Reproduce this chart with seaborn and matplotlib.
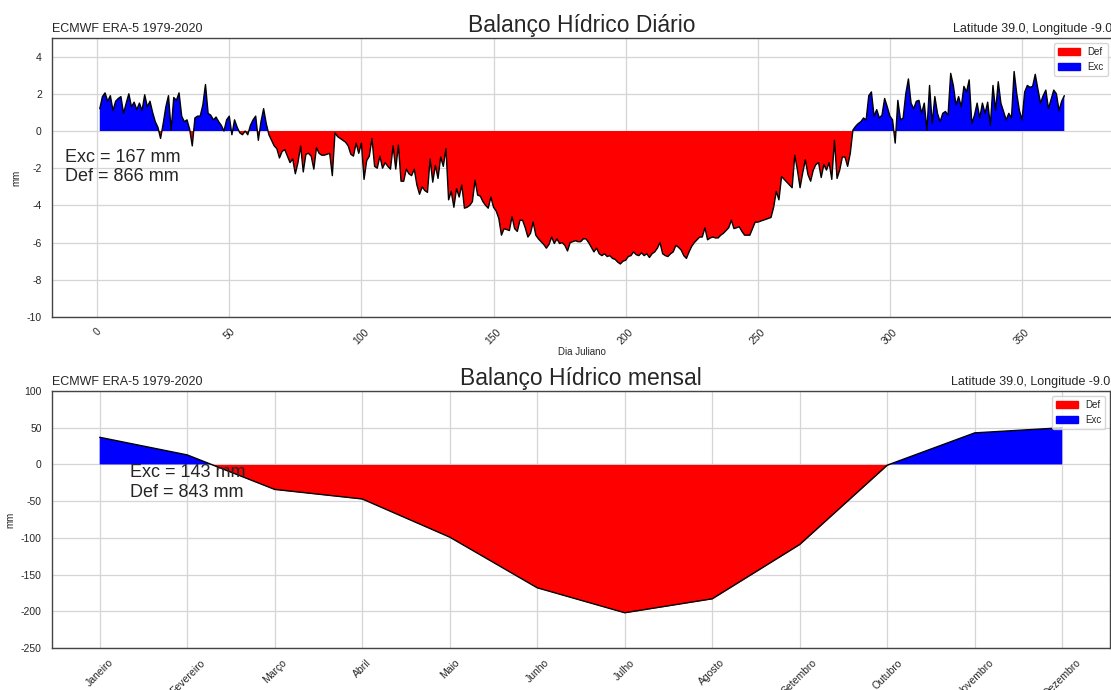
import numpy as np
import matplotlib
matplotlib.use("Agg")
import matplotlib.pyplot as plt
import seaborn as sns
from matplotlib.patches import Patch

# Daily water balance (mm), Julian days 1..366
dias = np.arange(1, 367)
balanco_diario = [
    1.2, 1.85, 2.05, 1.6, 1.9, 1.1, 1.6, 1.75, 1.85, 0.95,
    1.5, 2.0, 1.3, 1.55, 1.15, 1.5, 1.1, 1.95, 1.3, 1.6,
    1.0, 0.5, 0.2, -0.4, 0.4, 1.3, 1.9, 0.05, 1.8, 1.65,
    2.05, 0.8, 0.5, 0.6, 0.1, -0.8, 0.7, 0.8, 0.8, 1.4,
    2.5, 0.95, 0.85, 0.6, 0.75, 0.5, 0.3, 0.0, 0.6, 0.8,
    -0.2, 0.6, 0.2, -0.1, -0.2, 0.0, -0.2, 0.3, 0.6, 0.8,
    -0.5, 0.5, 1.2, 0.4, -0.2, -0.5, -0.8, -0.95, -1.45, -1.1,
    -1.0, -1.35, -1.7, -1.5, -2.3, -1.7, -0.8, -2.2, -1.25, -1.2,
    -1.35, -2.05, -0.9, -1.2, -1.3, -1.3, -1.25, -1.2, -2.4, -0.1,
    -0.3, -0.4, -0.5, -0.6, -0.8, -1.25, -1.35, -0.65, -1.2, -0.65,
    -2.6, -1.6, -1.35, -0.4, -1.9, -2.0, -1.35, -2.0, -1.7, -1.9,
    -2.05, -0.8, -2.05, -0.75, -2.7, -2.7, -2.05, -2.3, -2.4, -2.05,
    -2.9, -3.4, -3.0, -3.2, -3.3, -1.5, -2.75, -1.85, -2.55, -1.4,
    -1.9, -0.95, -3.7, -3.25, -4.1, -3.1, -3.55, -2.9, -4.15, -4.1,
    -4.0, -3.8, -2.65, -3.45, -3.5, -3.8, -4.0, -4.15, -3.55, -4.1,
    -4.3, -4.7, -5.6, -5.25, -5.3, -5.35, -4.6, -5.25, -5.4, -4.8,
    -4.8, -5.2, -5.7, -5.5, -4.9, -5.6, -5.8, -5.95, -6.1, -6.3,
    -6.1, -5.7, -6.05, -5.8, -6.05, -6.0, -6.15, -6.45, -6.0, -5.95,
    -5.9, -5.95, -5.95, -5.8, -5.8, -6.0, -6.25, -6.5, -6.3, -6.6,
    -6.7, -6.6, -6.75, -6.7, -6.85, -6.9, -7.05, -7.15, -7.0, -6.95,
    -6.75, -6.7, -6.5, -6.65, -6.7, -6.55, -6.7, -6.6, -6.8, -6.6,
    -6.5, -6.3, -6.0, -6.6, -6.7, -6.75, -6.6, -6.5, -6.15, -6.25,
    -6.4, -6.7, -6.85, -6.5, -6.2, -6.0, -5.85, -5.7, -5.7, -5.2,
    -5.85, -5.75, -5.7, -5.75, -5.75, -5.6, -5.5, -5.35, -5.2, -4.8,
    -5.25, -5.2, -5.15, -5.4, -5.6, -5.6, -5.6, -5.25, -4.9, -4.9,
    -4.85, -4.8, -4.75, -4.7, -4.65, -4.1, -3.25, -3.7, -2.45, -2.6,
    -2.75, -2.9, -3.05, -1.3, -2.1, -3.05, -2.25, -1.55, -2.35, -2.7,
    -2.1, -1.8, -1.7, -2.5, -1.8, -2.1, -1.7, -2.6, -0.5, -2.55,
    -2.1, -1.4, -1.4, -1.9, -1.2, 0.05, 0.25, 0.4, 0.5, 0.7,
    0.6, 1.9, 2.1, 0.8, 1.15, 0.7, 0.85, 1.75, 1.3, 0.8,
    0.6, -0.65, 1.65, 0.6, 0.7, 2.0, 2.8, 1.5, 1.2, 1.6,
    1.65, 0.95, 1.5, 0.05, 2.45, 0.4, 1.85, 0.95, 0.5, 0.95,
    1.05, 0.85, 3.1, 2.45, 1.4, 1.85, 1.3, 2.4, 2.1, 2.75,
    0.4, 0.85, 1.5, 0.7, 1.5, 0.95, 1.55, 0.3, 2.45, 1.1,
    2.65, 1.5, 1.05, 0.6, 0.95, 0.7, 3.2, 2.0, 1.1, 0.6,
    2.1, 2.45, 2.35, 2.4, 3.05, 2.25, 1.5, 1.9, 2.2, 1.2,
    1.7, 2.2, 2.0, 1.1, 1.6, 1.9,
]

# Monthly water balance (mm)
meses = ["Janeiro", "Fevereiro", "Março", "Abril", "Maio", "Junho",
         "Julho", "Agosto", "Setembro", "Outubro", "Novembro", "Dezembro"]
balanco_mensal = [37, 13, -34, -47, -99, -168, -202, -183, -109, -1, 43, 50]

fonte_dados = "ECMWF ERA-5 1979-2020"
local = "Latitude 39.0, Longitude -9.0"
resumo_diario = "Exc = 167 mm\nDef = 866 mm"
resumo_mensal = "Exc = 143 mm\nDef = 843 mm"

sns.set_style("white")
plt.rcParams["font.family"] = ["Liberation Sans", "DejaVu Sans"]
plt.rcParams["axes.unicode_minus"] = False

fig = plt.figure(figsize=(11.11, 6.9), dpi=100)
ax1 = fig.add_axes([0.0464, 0.5406, 0.9550, 0.4043])
ax2 = fig.add_axes([0.0464, 0.0609, 0.9530, 0.3724])


def desenha_balanco(ax, x, y):
    y = np.asarray(y, dtype=float)
    ax.fill_between(x, y, 0, where=y <= 0, interpolate=True,
                    color="red", linewidth=0)
    ax.fill_between(x, y, 0, where=y >= 0, interpolate=True,
                    color="blue", linewidth=0)
    sns.lineplot(x=x, y=y, color="black", linewidth=1.0, ax=ax)
    ax.grid(True, color="#d5d5d5", linewidth=0.9)
    ax.set_axisbelow(True)
    for s in ax.spines.values():
        s.set_color("#444444")
        s.set_linewidth(1.0)
    ax.legend(handles=[Patch(color="red", label="Def"),
                       Patch(color="blue", label="Exc")],
              loc="upper right", fontsize=7, handlelength=2.2)
    ax.set_ylabel("mm", fontsize=7)
    ax.tick_params(labelsize=7.5, colors="#262626")


# Daily panel
desenha_balanco(ax1, dias, balanco_diario)
ax1.set_ylim(-10, 5)
ax1.set_yticks(np.arange(-10, 5, 2))
ax1.set_xticks(np.arange(0, 351, 50))
ax1.tick_params(axis="x", labelrotation=45)
ax1.set_xlabel("Dia Juliano", fontsize=7, labelpad=1)
ax1.set_title("Balanço Hídrico Diário", fontsize=16.5, pad=4)
ax1.set_title(fonte_dados, loc="left", fontsize=9, pad=4)
ax1.set_title(local, loc="right", fontsize=9, pad=4)
ax1.text(-12, -0.95, resumo_diario, fontsize=13, va="top", ha="left",
         color="#262626")

# Monthly panel
pos = np.arange(len(meses))
desenha_balanco(ax2, pos, balanco_mensal)
ax2.set_ylim(-250, 100)
ax2.set_yticks(np.arange(-250, 101, 50))
ax2.set_xticks(pos)
ax2.set_xticklabels(meses)
ax2.tick_params(axis="x", labelrotation=45)
ax2.set_title("Balanço Hídrico mensal", fontsize=16.5, pad=4)
ax2.set_title(fonte_dados, loc="left", fontsize=9, pad=4)
ax2.set_title(local, loc="right", fontsize=9, pad=4)
ax2.text(0.35, 0.5, resumo_mensal, fontsize=13, va="top", ha="left",
         color="#262626")

fig.savefig("out.png", dpi=100)
